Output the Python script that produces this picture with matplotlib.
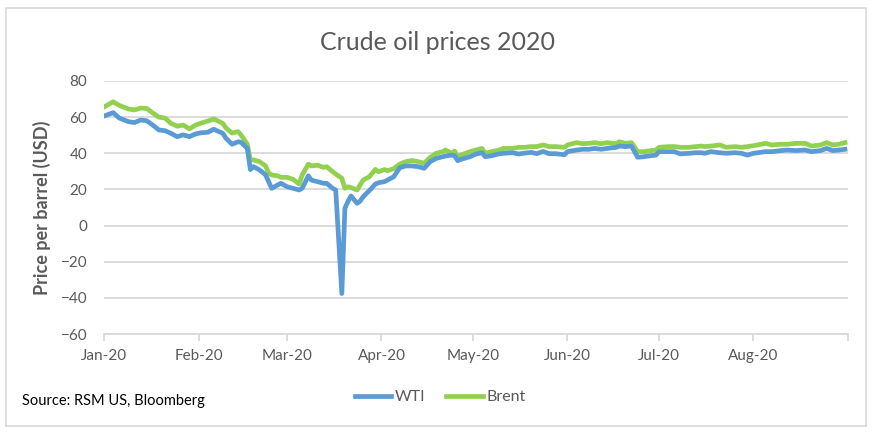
import pandas as pd
import matplotlib.pyplot as plt
from matplotlib.patches import Rectangle

plt.rcParams['font.family'] = ['Lato', 'DejaVu Sans']

dates = [
    '2020-01-01', '2020-01-04', '2020-01-06', '2020-01-09', '2020-01-11', '2020-01-13', '2020-01-15',
    '2020-01-17', '2020-01-19', '2020-01-21', '2020-01-23', '2020-01-25', '2020-01-27', '2020-01-29',
    '2020-01-31', '2020-02-02', '2020-02-04', '2020-02-06', '2020-02-09', '2020-02-10', '2020-02-12',
    '2020-02-14', '2020-02-15', '2020-02-17', '2020-02-18', '2020-02-19', '2020-02-21', '2020-02-23',
    '2020-02-24', '2020-02-25', '2020-02-27', '2020-02-28', '2020-03-01', '2020-03-03', '2020-03-05',
    '2020-03-06', '2020-03-08', '2020-03-09', '2020-03-11', '2020-03-13', '2020-03-14', '2020-03-16',
    '2020-03-17', '2020-03-19', '2020-03-20', '2020-03-21', '2020-03-22', '2020-03-24', '2020-03-25',
    '2020-03-26', '2020-03-28', '2020-03-30', '2020-03-31', '2020-04-02', '2020-04-03', '2020-04-05',
    '2020-04-07', '2020-04-09', '2020-04-11', '2020-04-13', '2020-04-15', '2020-04-17', '2020-04-19',
    '2020-04-21', '2020-04-22', '2020-04-24', '2020-04-25', '2020-04-26', '2020-04-27', '2020-04-30',
    '2020-05-02', '2020-05-04', '2020-05-05', '2020-05-07', '2020-05-09', '2020-05-11', '2020-05-14',
    '2020-05-16', '2020-05-18', '2020-05-20', '2020-05-22', '2020-05-24', '2020-05-26', '2020-05-28',
    '2020-05-31', '2020-06-01', '2020-06-04', '2020-06-06', '2020-06-08', '2020-06-10', '2020-06-12',
    '2020-06-14', '2020-06-17', '2020-06-18', '2020-06-20', '2020-06-22', '2020-06-24', '2020-06-26',
    '2020-06-28', '2020-06-30', '2020-07-01', '2020-07-04', '2020-07-06', '2020-07-08', '2020-07-11',
    '2020-07-13', '2020-07-15', '2020-07-16', '2020-07-18', '2020-07-21', '2020-07-23', '2020-07-26',
    '2020-07-28', '2020-07-30', '2020-08-01', '2020-08-05', '2020-08-07', '2020-08-10', '2020-08-12',
    '2020-08-15', '2020-08-18', '2020-08-20', '2020-08-23', '2020-08-25', '2020-08-27', '2020-08-29',
    '2020-08-31',
]

wti = [
    60.6, 62.5, 59.5, 57.5, 57.0, 58.4, 58.0,
    55.6, 52.9, 52.5, 51.0, 49.2, 50.2, 49.2,
    50.7, 51.4, 51.6, 53.3, 51.0, 48.3, 45.0,
    46.4, 46.0, 42.7, 31.0, 32.6, 30.8, 28.0,
    24.3, 20.6, 22.5, 23.4, 21.5, 20.6, 19.7,
    20.6, 27.5, 25.2, 24.3, 23.4, 23.4, 20.6,
    19.7, -37.6, 9.6, 13.3, 16.4, 12.3, 13.5,
    16.0, 19.3, 23.0, 23.7, 24.3, 25.2, 27.0,
    32.0, 33.0, 33.0, 32.6, 31.7, 35.4, 37.2,
    38.1, 38.5, 39.0, 38.6, 35.9, 36.6, 38.1,
    39.6, 40.3, 38.1, 38.6, 39.5, 40.0, 40.3,
    39.6, 40.1, 40.5, 39.8, 41.0, 39.8, 39.8,
    39.2, 40.9, 41.8, 42.2, 42.2, 42.7, 42.2,
    42.7, 43.3, 44.0, 43.7, 44.0, 37.8, 38.1,
    38.6, 39.0, 40.9, 40.9, 40.9, 39.7, 40.0,
    40.3, 40.3, 40.0, 40.9, 40.3, 40.0, 40.3,
    40.0, 39.0, 40.0, 40.9, 40.9, 41.5, 41.8,
    41.5, 41.8, 40.9, 41.5, 42.7, 41.5, 41.8,
    42.2,
]

brent = [
    65.6, 68.5, 66.5, 64.5, 64.0, 65.0, 64.8,
    62.3, 60.0, 59.5, 56.5, 55.0, 55.6, 53.5,
    55.6, 56.8, 57.8, 59.0, 56.5, 54.0, 51.2,
    52.0, 50.0, 45.0, 36.5, 36.3, 35.4, 33.0,
    29.0, 28.0, 27.5, 26.7, 26.7, 25.6, 23.0,
    28.0, 34.0, 33.0, 33.4, 32.2, 32.6, 29.8,
    28.5, 26.2, 20.6, 21.5, 21.0, 19.7, 22.5,
    25.2, 27.0, 31.1, 29.8, 31.0, 30.4, 31.5,
    34.0, 35.4, 36.0, 35.4, 34.5, 37.8, 40.0,
    40.9, 41.8, 40.0, 41.2, 37.8, 39.0, 40.9,
    41.8, 42.7, 40.0, 40.9, 41.5, 42.7, 42.7,
    43.3, 43.3, 43.7, 43.7, 44.6, 43.7, 43.7,
    43.3, 44.6, 45.9, 45.3, 45.5, 45.9, 45.3,
    45.9, 45.3, 46.4, 45.5, 45.9, 40.9, 40.9,
    41.4, 41.8, 43.3, 43.7, 43.7, 43.3, 43.3,
    43.7, 44.0, 43.7, 44.0, 44.6, 43.3, 43.7,
    43.3, 43.7, 44.2, 45.5, 44.6, 45.0, 45.0,
    45.5, 45.5, 44.0, 44.6, 45.9, 44.6, 45.0,
    45.9,
]

month_ticks = pd.date_range('2020-01-01', '2020-09-01', freq='MS')
month_labels = ['Jan-20', 'Feb-20', 'Mar-20', 'Apr-20', 'May-20', 'Jun-20', 'Jul-20', 'Aug-20', '']
y_ticks = [-60, -40, -20, 0, 20, 40, 60, 80]

df = pd.DataFrame({'date': pd.to_datetime(dates), 'WTI': wti, 'Brent': brent})

gray = '#595959'
fig = plt.figure(figsize=(8.76, 4.33), dpi=100)
fig.patches.append(Rectangle((6 / 876, 1 - 426 / 433), 860 / 876, 418 / 433,
                             transform=fig.transFigure, facecolor='white',
                             edgecolor='#d9d9d9', linewidth=1.2, zorder=-1))
ax = fig.add_axes([104 / 876, 1 - 334 / 433, 744 / 876, 253 / 433])
ax.set_facecolor('none')

ax.plot(df['date'], df['WTI'], color='#5B9BD5', linewidth=3.4, label='WTI',
        solid_joinstyle='round', zorder=3)
ax.plot(df['date'], df['Brent'], color='#92D050', linewidth=3.4, label='Brent',
        solid_joinstyle='round', zorder=2)

ax.set_xlim(month_ticks[0], month_ticks[-1])
ax.set_ylim(-60, 80)
ax.set_yticks(y_ticks)
ax.set_xticks(month_ticks)
ax.set_xticklabels(month_labels)
ax.grid(axis='y', color='#d9d9d9', linewidth=1.3)
ax.set_axisbelow(True)
for s in ['top', 'right', 'left']:
    ax.spines[s].set_visible(False)
ax.spines['bottom'].set_color('#d9d9d9')
ax.spines['bottom'].set_linewidth(1.3)
ax.tick_params(axis='y', length=0, pad=12, labelsize=11, labelcolor=gray)
ax.tick_params(axis='x', length=5, width=1.3, color='#d9d9d9', pad=6,
               labelsize=11, labelcolor=gray)

ax.set_ylabel('Price per barrel (USD)', fontsize=13, fontweight='bold', color=gray, labelpad=7)
fig.text(0.5, 1 - 43 / 433, 'Crude oil prices 2020', ha='center', va='center',
         fontsize=18, color=gray)

fig.legend(loc='center', bbox_to_anchor=(440 / 876, 1 - 397 / 433), ncol=2, frameon=False,
           fontsize=11.5, handlelength=2.3, handletextpad=0.2, columnspacing=1.3,
           labelcolor=gray)
fig.text(22 / 876, 1 - 401 / 433, 'Source: RSM US, Bloomberg', ha='left', va='center',
         fontsize=10.5, color='black')

plt.savefig('out.png', dpi=100)
